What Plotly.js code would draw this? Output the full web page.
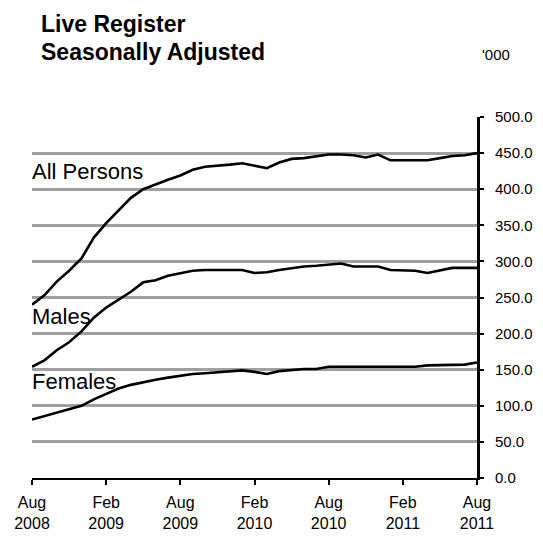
<!DOCTYPE html>
<html>
<head>
<meta charset="utf-8">
<script src="https://cdn.plot.ly/plotly-3.0.1.min.js"></script>
<style>
  html, body { margin: 0; padding: 0; background: #ffffff; }
  #chart { width: 543px; height: 540px; }
</style>
</head>
<body>
<div id="chart"></div>
<script>
// Months (Aug 2008 .. Aug 2011)
var months = [
  "Aug 2008","Sep 2008","Oct 2008","Nov 2008","Dec 2008",
  "Jan 2009","Feb 2009","Mar 2009","Apr 2009","May 2009","Jun 2009","Jul 2009","Aug 2009","Sep 2009","Oct 2009","Nov 2009","Dec 2009",
  "Jan 2010","Feb 2010","Mar 2010","Apr 2010","May 2010","Jun 2010","Jul 2010","Aug 2010","Sep 2010","Oct 2010","Nov 2010","Dec 2010",
  "Jan 2011","Feb 2011","Mar 2011","Apr 2011","May 2011","Jun 2011","Jul 2011","Aug 2011"
];

// Values in '000
var allPersons = [240,253,272,287,304,333,353,371,388,400,407,413,419,427,431,432,434,436,433,429,437,442,443,446,448,448,447,444,448,440,440,440,440,443,446,447,450];
var males      = [154,163,177,188,203,222,236,247,258,271,274,280,284,287,288,288,288,288,284,285,288,291,293,294,296,297,293,293,293,288,288,287,284,288,291,291,291];
var females    = [81,86,90,95,100,109,117,124,129,133,136,139,142,144,145,146,147,149,147,144,148,150,151,151,154,154,154,154,154,154,154,154,156,156,156,157,160];

// Axis ticks
var xTickVals  = ["Aug 2008","Feb 2009","Aug 2009","Feb 2010","Aug 2010","Feb 2011","Aug 2011"];
var xTickText  = ["Aug<br>2008","Feb<br>2009","Aug<br>2009","Feb<br>2010","Aug<br>2010","Feb<br>2011","Aug<br>2011"];
var yTickVals  = [0,50,100,150,200,250,300,350,400,450,500];

// Series labels
var seriesNames = ["All Persons", "Males", "Females"];
var labelY      = [424, 223, 133];

var FONT = "Liberation Sans, Arial, Helvetica, sans-serif";
var lineStyle = {color: "#000000", width: 2.6};

var traces = [allPersons, males, females].map(function (vals, i) {
  return {
    type: "scatter", mode: "lines",
    x: months, y: vals,
    name: seriesNames[i],
    line: lineStyle,
    hoverinfo: "skip"
  };
});

var annotations = seriesNames.map(function (n, i) {
  return {
    text: n, xref: "x", yref: "y", x: 0, y: labelY[i],
    xanchor: "left", yanchor: "middle", showarrow: false,
    xshift: -2,
    font: {family: FONT, size: 22, color: "#000000"}
  };
});

annotations.push({
  text: "<b>Live Register</b>", xref: "paper", yref: "paper",
  x: 0.016, y: 1.258, xanchor: "left", yanchor: "middle", showarrow: false,
  font: {family: FONT, size: 23, color: "#000000"}
});
annotations.push({
  text: "<b>Seasonally Adjusted</b>", xref: "paper", yref: "paper",
  x: 0.016, y: 1.18, xanchor: "left", yanchor: "middle", showarrow: false,
  font: {family: FONT, size: 23, color: "#000000"}
});
annotations.push({
  text: "'000", xref: "paper", yref: "paper",
  x: 1.078, y: 1.172, xanchor: "right", yanchor: "middle", showarrow: false,
  font: {family: FONT, size: 15, color: "#000000"}
});

var layout = {
  width: 543, height: 540,
  margin: {l: 32, r: 66, t: 117, b: 62},
  paper_bgcolor: "#ffffff", plot_bgcolor: "#ffffff",
  showlegend: false,
  font: {family: FONT, color: "#000000"},
  xaxis: {
    type: "category",
    range: [0, 36],
    tickmode: "array", tickvals: xTickVals, ticktext: xTickText,
    tickangle: 0,
    showgrid: false, zeroline: false,
    showline: true, linecolor: "#000000", linewidth: 2,
    ticks: "outside", ticklen: 5, tickwidth: 2, tickcolor: "#000000",
    ticklabelstandoff: 4,
    tickfont: {family: FONT, size: 16, color: "#000000"},
    fixedrange: true
  },
  yaxis: {
    side: "right",
    range: [0, 500],
    tickmode: "array", tickvals: yTickVals, tickformat: ".1f",
    showgrid: true, gridcolor: "#a0a0a0", gridwidth: 3,
    zeroline: false,
    showline: true, linecolor: "#000000", linewidth: 3,
    ticks: "outside", ticklen: 4, tickwidth: 2, tickcolor: "#000000",
    ticklabelstandoff: 8,
    tickfont: {family: FONT, size: 15, color: "#000000"},
    fixedrange: true
  },
  annotations: annotations
};

Plotly.newPlot("chart", traces, layout, {displayModeBar: false, staticPlot: true});
</script>
</body>
</html>
